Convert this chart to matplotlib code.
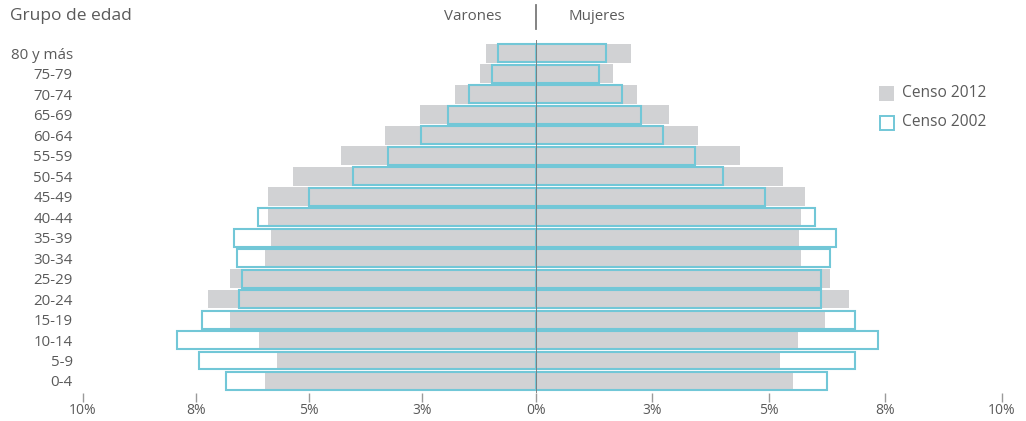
import matplotlib
matplotlib.use("Agg")
import matplotlib.pyplot as plt
from matplotlib.lines import Line2D
from matplotlib.patches import Rectangle

plt.rcParams['font.family'] = ['Open Sans', 'DejaVu Sans']

groups = ["0-4", "5-9", "10-14", "15-19", "20-24", "25-29", "30-34", "35-39",
          "40-44", "45-49", "50-54", "55-59", "60-64", "65-69", "70-74",
          "75-79", "80 y más"]

# Percent of population (bottom group first)
varones_2012 = [5.97, 5.71, 6.11, 6.75, 7.23, 6.75, 5.97, 5.84, 5.91, 5.90,
                5.36, 4.30, 3.33, 2.55, 1.78, 1.23, 1.10]
varones_2002 = [6.83, 7.44, 7.91, 7.36, 6.54, 6.49, 6.60, 6.66, 6.12, 5.01,
                4.03, 3.27, 2.52, 1.94, 1.47, 0.96, 0.83]
mujeres_2012 = [5.51, 5.23, 5.62, 6.20, 6.72, 6.31, 5.70, 5.64, 5.70, 5.78,
                5.30, 4.38, 3.48, 2.86, 2.17, 1.66, 2.04]
mujeres_2002 = [6.25, 6.85, 7.35, 6.85, 6.12, 6.11, 6.31, 6.44, 6.00, 4.92,
                4.02, 3.42, 2.74, 2.26, 1.85, 1.36, 1.51]

left_ticks = [10, 7.5, 5, 2.5, 0]
left_labels = ["10%", "8%", "5%", "3%", "0%"]
right_ticks = [2.5, 5, 7.5, 10]
right_labels = ["3%", "5%", "8%", "10%"]

GRAY = "#d1d2d4"
BLUE = "#72c7d7"
TEXT = "#5a5a5a"
LINE = "#7a7a7a"

W, H = 1026, 421
fig = plt.figure(figsize=(W / 100, H / 100), dpi=100)

def fx(px):
    return px / W

def fy(py):
    return 1 - py / H

x0, xc, x1 = 82.5, 535.7, 1002.0
ytop, ybot = 40.0, 393.0
row0, step = 381.0, 20.48

def yval(py):
    return (row0 - py) / step

axl = fig.add_axes([fx(x0), fy(ybot), fx(xc - x0), fy(ytop) - fy(ybot)])
axr = fig.add_axes([fx(xc), fy(ybot), fx(x1 - xc), fy(ytop) - fy(ybot)])

ypos = list(range(len(groups)))
bh = 0.91
axl.barh(ypos, varones_2012, height=bh, color=GRAY, zorder=1)
axl.barh(ypos, varones_2002, height=bh * 0.96, facecolor="none",
         edgecolor=BLUE, linewidth=1.5, zorder=2)
axr.barh(ypos, mujeres_2012, height=bh, color=GRAY, zorder=1)
axr.barh(ypos, mujeres_2002, height=bh * 0.96, facecolor="none",
         edgecolor=BLUE, linewidth=1.5, zorder=2)

for ax in (axl, axr):
    ax.set_ylim(yval(ybot), yval(ytop))
    for s in ax.spines.values():
        s.set_visible(False)
    ax.tick_params(axis='x', length=6.5, width=1, color="#9a9a9a",
                   labelsize=10, labelcolor=TEXT, pad=1)

axl.set_xlim(10, 0)
axr.set_xlim(0, 10)
axl.set_xticks(left_ticks)
axl.set_xticklabels(left_labels)
axr.set_xticks(right_ticks)
axr.set_xticklabels(right_labels)

axl.set_yticks(ypos)
axl.set_yticklabels(groups)
axl.tick_params(axis='y', length=0, pad=7, labelsize=10.8, labelcolor=TEXT)
axr.set_yticks([])

axr.axvline(0, ymin=0, ymax=1, color=LINE, linewidth=1.3, zorder=5)

# header
fig.text(fx(10), fy(16), "Grupo de edad", fontsize=12.5, color=TEXT,
         ha="left", va="center")
fig.text(fx(502), fy(17), "Varones", fontsize=10.8, color=TEXT,
         ha="right", va="center")
fig.text(fx(569), fy(17), "Mujeres", fontsize=10.8, color=TEXT,
         ha="left", va="center")
fig.add_artist(Line2D([fx(xc), fx(xc)], [fy(5), fy(29)], color=LINE,
                      linewidth=1.3))

# legend
fig.add_artist(Rectangle((fx(879), fy(101)), fx(15), fy(86) - fy(101),
                         facecolor=GRAY, edgecolor="none"))
fig.add_artist(Rectangle((fx(879.5), fy(130)), fx(14), fy(116) - fy(130),
                         facecolor="white", edgecolor=BLUE, linewidth=1.4))
fig.text(fx(902), fy(93), "Censo 2012", fontsize=11.2, color=TEXT,
         ha="left", va="center")
fig.text(fx(902), fy(122), "Censo 2002", fontsize=11.2, color=TEXT,
         ha="left", va="center")

fig.savefig("out.png", dpi=100)
